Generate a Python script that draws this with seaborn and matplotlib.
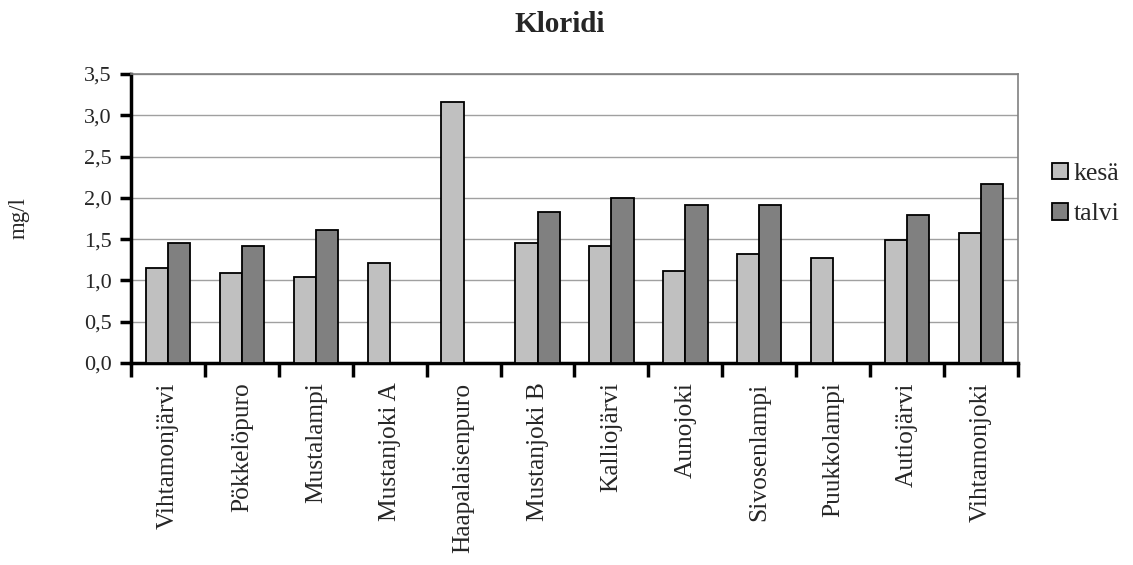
import numpy as np
import pandas as pd
import matplotlib
matplotlib.use("Agg")
import matplotlib.pyplot as plt
import seaborn as sns
from matplotlib.ticker import FuncFormatter, FixedLocator

sites = ['Vihtamonjärvi', 'Pökkelöpuro', 'Mustalampi', 'Mustanjoki A', 'Haapalaisenpuro',
         'Mustanjoki B', 'Kalliojärvi', 'Aunojoki', 'Sivosenlampi', 'Puukkolampi',
         'Autiojärvi', 'Vihtamonjoki']
kesa = [1.15, 1.09, 1.04, 1.21, 3.16, 1.45, 1.42, 1.11, 1.32, 1.27, 1.49, 1.57]
talvi = [1.45, 1.42, 1.61, np.nan, np.nan, 1.83, 2.00, 1.91, 1.91, np.nan, 1.79, 2.17]
seasons = ['kesä', 'talvi']
colors = ['#c0c0c0', '#808080']

df = pd.DataFrame({'site': sites * 2,
                   'season': ['kesä'] * len(sites) + ['talvi'] * len(sites),
                   'value': kesa + talvi})

sns.set_style("white")
plt.rcParams['font.family'] = ['Liberation Serif', 'DejaVu Serif']

fig = plt.figure(figsize=(11.33, 5.65), dpi=100)
ax = fig.add_axes([0.1156, 0.3575, 0.7829, 0.5115])

sns.barplot(data=df, x='site', y='value', hue='season', hue_order=seasons,
            palette=colors, width=0.6, edgecolor='black', linewidth=1.3,
            errorbar=None, ax=ax, zorder=3)

ax.set_ylim(0, 3.5)
ax.set_xlim(-0.5, len(sites) - 0.5)
ax.set_yticks(np.arange(0, 3.51, 0.5))
ax.yaxis.set_major_formatter(FuncFormatter(lambda v, p: f"{v:.1f}".replace('.', ',')))
ax.grid(axis='y', color='#a0a0a0', linewidth=1, zorder=0)
ax.set_axisbelow(True)

# category labels without tick marks, boundary ticks as minor ticks
ax.set_xticks(range(len(sites)))
ax.set_xticklabels(sites, rotation=90, fontsize=18.3)
ax.xaxis.set_minor_locator(FixedLocator(np.arange(-0.5, len(sites), 1.0)))
ax.tick_params(axis='x', which='major', length=0, pad=14)
ax.tick_params(axis='x', which='minor', length=10, width=2.5, color='black', direction='out', bottom=True)
ax.tick_params(axis='y', which='major', length=8, width=2.5, color='black', direction='out',
               labelsize=16, left=True, pad=6)

for s in ['left', 'bottom']:
    ax.spines[s].set_color('black')
    ax.spines[s].set_linewidth(2.5)
for s in ['top', 'right']:
    ax.spines[s].set_color('#808080')
    ax.spines[s].set_linewidth(1.2)
    ax.spines[s].set_visible(True)

ax.set_xlabel('')
ax.set_ylabel('mg/l', fontsize=16.5)
ax.yaxis.set_label_coords(-0.114, 0.5)
ax.set_title('Kloridi', fontsize=21, fontweight='bold', pad=30, x=0.4837)

leg = ax.legend(loc='center left', bbox_to_anchor=(1.027, 0.585), frameon=False, fontsize=18.5,
                borderaxespad=0, handlelength=0.62, handleheight=0.62, handletextpad=0.2,
                labelspacing=0.7)
for h in leg.legend_handles:
    h.set_edgecolor('black')
    h.set_linewidth(1.3)

plt.savefig('out.png', dpi=100)
